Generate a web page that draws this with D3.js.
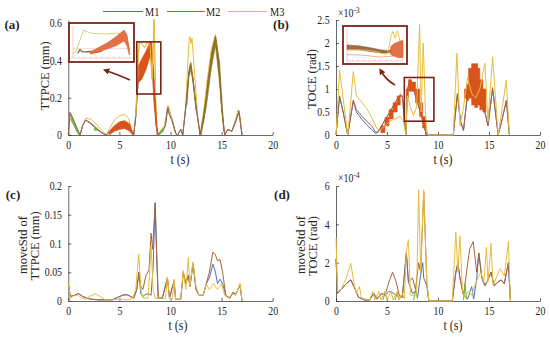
<!DOCTYPE html>
<html><head><meta charset="utf-8">
<script src="https://cdn.jsdelivr.net/npm/d3@7"></script>
<style>
body{margin:0;background:#fff}
svg{display:block}
text{font-family:"Liberation Serif","Times New Roman",Tinos,serif;fill:#262626}
</style>
</head><body>
<svg id="c" width="550" height="338"></svg>
<script>
// ---------------- DATA ----------------
const seriesNames = ["M1", "M2", "M3"];
const xTicks = [0, 5, 10, 15, 20];

// (a) TTPCE (mm)
const aTicks = [0, 0.2, 0.4, 0.6];
const aM1 = [[0,0],[0.15,0.12],[0.5,0.08],[0.9,0.03],[1.15,0],[1.4,0.05],[1.7,0.08],[2.2,0.06],[2.8,0.03],[3.3,0.01],[3.7,0],[4.1,0.02],[4.6,0.045],[5.1,0.06],[5.5,0.065],[5.9,0.05],[6.2,0.02],[6.4,0],[6.6,0.1],[6.85,0.3],[7.3,0.35],[7.8,0.42],[8.1,0.48],[8.35,0.3],[8.6,0.05],[8.8,0],[9.2,0.02],[9.5,0.05],[9.7,0.14],[9.9,0.11],[10.2,0.07],[10.5,0.01],[10.7,0],[11,0.03],[11.2,0],[11.5,0.15],[11.8,0.33],[11.95,0.37],[12.2,0.3],[12.5,0.15],[12.9,0],[13.3,0.1],[13.7,0.3],[14.1,0.45],[14.4,0.52],[14.7,0.4],[15,0.15],[15.3,0],[15.6,0.03],[16,0.02],[16.3,0.06],[16.7,0.12],[17,0]];
const aM2 = [[0,0],[0.15,0.12],[0.5,0.08],[0.9,0.03],[1.15,0],[1.4,0.05],[1.7,0.08],[2.2,0.065],[2.8,0.035],[3.3,0.012],[3.7,0],[4.1,0.02],[4.6,0.05],[5.1,0.07],[5.5,0.075],[5.9,0.06],[6.2,0.02],[6.4,0],[6.6,0.1],[6.85,0.3],[7.3,0.35],[7.8,0.42],[8.1,0.49],[8.35,0.3],[8.6,0.05],[8.8,0],[9.2,0.02],[9.5,0.05],[9.75,0.15],[9.9,0.11],[10.2,0.07],[10.5,0.01],[10.7,0],[11,0.03],[11.2,0],[11.5,0.15],[11.8,0.34],[11.95,0.385],[12.2,0.3],[12.5,0.15],[12.9,0],[13.3,0.1],[13.7,0.3],[14.1,0.45],[14.4,0.53],[14.7,0.4],[15,0.15],[15.3,0],[15.6,0.03],[16,0.02],[16.3,0.06],[16.7,0.13],[17,0]];
const aM3 = [[0,0],[0.15,0.125],[0.4,0.1],[0.8,0.04],[1.15,0],[1.4,0.05],[1.7,0.09],[2.2,0.085],[2.8,0.055],[3.3,0.025],[3.7,0],[4.0,0.03],[4.5,0.08],[5.0,0.103],[5.5,0.11],[5.9,0.09],[6.2,0.03],[6.4,0],[6.6,0.1],[6.8,0.38],[6.95,0.5],[7.2,0.49],[7.45,0.47],[7.75,0.5],[8.0,0.48],[8.2,0.3],[8.4,0.62],[8.55,0.2],[8.7,0],[9.0,0.02],[9.4,0.05],[9.75,0.16],[9.95,0.13],[10.2,0.08],[10.5,0.01],[10.7,0],[11,0.03],[11.2,0],[11.5,0.17],[11.8,0.5],[11.9,0.53],[12.0,0.49],[12.1,0.52],[12.4,0.3],[12.7,0.08],[12.9,0],[13.2,0.1],[13.6,0.3],[14.0,0.46],[14.4,0.54],[14.7,0.42],[15,0.15],[15.3,0],[15.6,0.03],[16,0.02],[16.3,0.07],[16.6,0.135],[16.8,0.1],[17,0]];
const aOrangeBands = [
  {t:[4.0,4.5,5.0,5.5,6.0,6.3], lo:[0,0.02,0.03,0.035,0.02,0], hi:[0.02,0.05,0.07,0.076,0.06,0.01]},
  {t:[6.85,7.2,7.6,8.0,8.15,8.4,8.7], lo:[0.28,0.3,0.35,0.42,0.4,0.15,0], hi:[0.37,0.41,0.45,0.5,0.5,0.3,0.03]}
];
const aOliveBands = [
  {t:[13.0,13.5,14.0,14.4,14.8,15.2], lo:[0,0.15,0.36,0.48,0.28,0.02], hi:[0.04,0.21,0.44,0.53,0.39,0.05]},
  {t:[11.6,11.8,12.0,12.2,12.5], lo:[0.16,0.31,0.35,0.28,0.13], hi:[0.18,0.34,0.39,0.31,0.15]}
];
const aGreenBands = [
  {t:[0.25,0.5,0.8,1.05], lo:[0.08,0.055,0.02,0], hi:[0.1,0.07,0.035,0.008]},
  {t:[2.55,2.7,2.85], lo:[0.025,0.025,0.025], hi:[0.045,0.04,0.035]},
  {t:[8.9,9.1,9.3], lo:[0.005,0.01,0.02], hi:[0.015,0.025,0.035]}
];

// (b) TOCE (rad) x10^-3
const bTicks = [0, 0.5, 1, 1.5, 2, 2.5];
const bM1 = [[0,0],[0.35,0.83],[0.7,0.5],[1.15,0],[1.7,0.74],[2.0,0.5],[2.5,0.35],[3.0,0.22],[3.5,0.12],[3.9,0.03],[4.2,0.08],[4.6,0.25],[5.0,0.4],[5.4,0.55],[5.8,0.7],[6.2,0.85],[6.5,0.85],[6.85,0],[7.0,1.0],[7.3,1.2],[7.6,1.0],[8.0,0.7],[8.4,0.4],[8.6,0.2],[8.9,0],[11.5,0],[11.9,0.88],[12.2,0.3],[12.5,0.1],[12.9,0.9],[13.3,1.2],[13.7,1.3],[14.1,1.0],[14.5,0.6],[14.9,0.2],[15.35,1.0],[15.9,0],[16.3,0.35],[16.7,0.75],[17,0]];
const bM2 = [[0,0],[0.35,0.85],[0.7,0.5],[1.15,0],[1.7,0.76],[2.0,0.55],[2.5,0.42],[3.0,0.3],[3.5,0.2],[3.9,0.05],[4.2,0.1],[4.6,0.25],[5.0,0.4],[5.4,0.55],[5.8,0.7],[6.2,0.85],[6.5,0.85],[6.85,0],[7.0,1.0],[7.3,1.2],[7.6,1.0],[8.0,0.7],[8.4,0.4],[8.6,0.2],[8.9,0],[11.5,0],[11.9,0.9],[12.2,0.3],[12.5,0.1],[12.9,0.9],[13.3,1.2],[13.7,1.3],[14.1,1.0],[14.5,0.6],[14.9,0.2],[15.35,1.03],[15.9,0],[16.3,0.35],[16.7,0.75],[17,0]];
const bM3 = [[0,0],[0.35,1.41],[0.7,0.8],[1.15,0],[1.7,1.38],[2.0,0.85],[2.5,0.72],[3.0,0.58],[3.5,0.38],[4.0,0.15],[4.3,0.1],[4.8,0.2],[5.3,0.3],[5.8,0.35],[6.3,0.4],[6.6,0.3],[6.85,0],[7.0,0.85],[7.3,0.6],[7.6,0.42],[7.9,0.6],[8.2,2.4],[8.35,0.5],[8.55,2.0],[8.8,0.3],[9.0,0],[11.5,0],[11.85,1.78],[12.15,0.2],[12.5,0.6],[12.9,1.25],[13.3,0.9],[13.7,0.8],[14.1,1.0],[14.6,1.56],[14.9,0.3],[15.35,1.7],[15.9,0],[16.3,0.6],[16.7,1.2],[17,0]];
const bOrangeBands = [
  {t:[4.4,4.8,5.2,5.6,6.0,6.3], lo:[0.05,0.2,0.35,0.5,0.65,0.75], hi:[0.2,0.38,0.55,0.7,0.85,0.9]},
  {t:[6.9,7.1,7.4,7.8,8.2,8.5,8.8], lo:[0.8,0.95,0.95,0.7,0.4,0.15,0], hi:[1.0,1.2,1.15,1.0,0.7,0.4,0.1]},
  {t:[12.6,12.8,13.0,13.3,13.6,13.9,14.1,14.4,14.7], lo:[0.8,0.75,0.8,0.65,0.6,0.65,0.55,0.5,0.6], hi:[1.0,1.1,1.45,1.55,1.55,1.45,1.2,1.0,0.8]}
];

// (c) moveStd of TTPCE (mm)
const cTicks = [0, 0.05, 0.1, 0.15, 0.2];
const cM1 = [[0,0.03],[0.2,0.008],[0.6,0.01],[1.0,0.013],[1.4,0.008],[1.8,0.005],[2.3,0.003],[3.0,0.002],[3.6,0.002],[4.3,0.002],[4.8,0.006],[5.3,0.01],[5.7,0.011],[6.1,0.008],[6.4,0.005],[6.7,0.02],[6.9,0.05],[7.1,0.012],[7.3,0.008],[7.6,0.012],[7.9,0.012],[8.1,0.01],[8.3,0.06],[8.5,0.17],[8.65,0.08],[8.8,0.005],[9.2,0.005],[9.7,0.04],[9.9,0.005],[10.35,0.035],[10.5,0.003],[11.0,0.003],[11.25,0.05],[11.5,0.03],[11.75,0.045],[11.9,0.025],[12.2,0.065],[12.5,0.02],[12.8,0.01],[13.2,0.01],[13.5,0.03],[13.8,0.04],[14.15,0.064],[14.4,0.05],[14.6,0.03],[14.85,0.038],[15.1,0.03],[15.4,0.01],[15.8,0.005],[16.1,0.015],[16.4,0.012],[16.8,0.028],[17,0]];
const cM2 = [[0,0.03],[0.2,0.008],[0.6,0.01],[1.0,0.013],[1.4,0.008],[1.8,0.005],[2.3,0.003],[3.0,0.002],[3.6,0.002],[4.3,0.002],[4.8,0.006],[5.3,0.01],[5.7,0.011],[6.1,0.008],[6.4,0.005],[6.7,0.02],[6.9,0.05],[7.1,0.025],[7.3,0.02],[7.6,0.045],[7.9,0.054],[8.1,0.118],[8.25,0.09],[8.5,0.171],[8.65,0.08],[8.8,0.005],[9.2,0.005],[9.7,0.04],[9.9,0.005],[10.35,0.035],[10.5,0.003],[11.0,0.003],[11.25,0.05],[11.5,0.03],[11.75,0.045],[11.9,0.025],[12.2,0.065],[12.5,0.02],[12.8,0.01],[13.2,0.01],[13.5,0.03],[13.8,0.05],[14.15,0.085],[14.4,0.08],[14.6,0.07],[14.85,0.072],[15.1,0.05],[15.4,0.01],[15.8,0.005],[16.1,0.015],[16.4,0.012],[16.8,0.028],[17,0]];
const cM3 = [[0,0.031],[0.2,0.005],[0.6,0.01],[1.0,0.01],[1.3,0.005],[1.7,0.003],[2.1,0.008],[2.6,0.013],[3.1,0.008],[3.6,0.002],[4.3,0.002],[4.8,0.003],[5.3,0.003],[5.8,0.002],[6.3,0.005],[6.6,0.02],[6.9,0.082],[7.1,0.02],[7.3,0.005],[7.8,0.005],[8.1,0.095],[8.3,0.02],[8.5,0.005],[9.0,0.005],[9.5,0.004],[9.7,0.042],[9.9,0.005],[10.2,0.004],[10.35,0.038],[10.5,0.003],[11.0,0.003],[11.25,0.053],[11.5,0.02],[11.75,0.076],[11.9,0.025],[12.2,0.068],[12.5,0.025],[12.8,0.01],[13.2,0.01],[13.5,0.03],[13.8,0.02],[14.2,0.03],[14.6,0.02],[15.0,0.03],[15.3,0.01],[15.7,0.005],[16.0,0.012],[16.4,0.01],[16.8,0.031],[17,0]];

// (d) moveStd of TOCE (rad) x10^-4
const dTicks = [0, 2, 4, 6];
const dM1 = [[0,2.2],[0.15,0.4],[0.5,0.6],[1.0,0.9],[1.45,1.1],[1.8,0.7],[2.2,0.2],[2.8,0.05],[3.3,0.05],[3.7,0.4],[4.0,0.1],[4.5,0.4],[4.8,0.3],[5.2,0.5],[5.5,0.45],[5.9,0.3],[6.2,0.2],[6.5,0.2],[6.9,2.5],[7.1,1.0],[7.5,0.4],[7.8,0.5],[8.0,0.2],[8.2,1.0],[8.5,2.0],[8.6,1.2],[8.9,0.8],[9.1,0],[11.4,0],[11.75,1.5],[11.95,2.0],[12.15,1.2],[12.5,0.3],[12.9,0.1],[13.3,0.75],[13.5,0.1],[13.8,1.2],[14.0,2.5],[14.3,1.2],[14.6,0.8],[14.8,1.0],[15.2,1.5],[15.5,0.8],[15.9,1.0],[16.2,1.1],[16.5,0.9],[16.9,2.0],[17.1,0]];
const dM2 = [[0,2.2],[0.15,0.4],[0.5,0.6],[1.0,0.9],[1.45,1.1],[1.8,0.7],[2.2,0.2],[2.8,0.05],[3.3,0.05],[3.7,0.4],[4.0,0.1],[4.5,0.4],[4.8,0.3],[5.2,1.0],[5.55,1.5],[5.9,1.0],[6.2,0.3],[6.5,0.2],[6.9,2.5],[7.1,1.0],[7.5,1.2],[7.8,0.6],[8.1,2.0],[8.3,1.5],[8.6,5.7],[8.9,1.0],[9.1,0],[11.4,0],[11.75,1.5],[11.95,2.0],[12.15,1.2],[12.5,0.3],[12.8,1.5],[13.1,2.7],[13.45,3.1],[13.8,1.5],[14.0,2.5],[14.3,1.2],[14.6,0.8],[14.8,1.0],[15.2,1.5],[15.5,0.8],[15.9,1.0],[16.2,1.1],[16.5,0.9],[16.9,2.0],[17.1,0]];
const dM3 = [[0,3.3],[0.15,0.5],[0.5,0.6],[1.0,1.2],[1.45,1.96],[1.8,0.8],[2.0,0.4],[2.3,0.76],[2.5,0.15],[3.3,0.05],[3.6,0.5],[3.8,0.05],[4.2,0.5],[4.4,0.05],[4.8,0.5],[5.0,0.05],[5.4,0.5],[5.6,0.05],[6.0,0.5],[6.2,0.05],[6.5,0.4],[6.7,0.1],[6.9,2.6],[7.1,3.2],[7.3,0.3],[7.6,0.3],[7.9,0.3],[8.1,5.8],[8.3,1.5],[8.6,5.8],[8.9,1.0],[9.1,0],[11.4,0],[11.75,3.6],[11.95,1.5],[12.15,3.4],[12.4,0.5],[12.6,0.2],[13.0,0.5],[13.3,0.3],[13.6,0.8],[13.9,1.2],[14.2,1.5],[14.5,1.0],[14.75,2.8],[14.9,1.0],[15.2,3.0],[15.4,0.8],[15.7,1.2],[16.1,1.7],[16.5,1.3],[16.9,3.1],[17.1,0]];
const dGreen = [
  [[4.6,0.05],[4.8,0.45],[5.0,0.05]],
  [[5.8,0.05],[6.0,0.45],[6.2,0.05]],
  [[7.6,0.05],[7.8,0.6],[8.0,0.1]],
  [[12.5,0.05],[12.65,0.9],[12.8,0.1]]
];

// Insets (normalised values)
const insetAYellow = [[0,0.15],[0.05,0.2],[0.18,0.9],[0.3,0.8],[0.45,0.78],[0.6,0.78],[0.75,0.8],[0.85,0.76],[0.93,0.7],[0.97,0.2],[1.0,0.1]];
const insetAOlive = [[0.08,0.15],[0.12,0.27],[0.16,0.2],[0.2,0.2],[0.3,0.21],[0.4,0.18],[0.5,0.22]];
const insetABand = {t:[0.3,0.45,0.6,0.75,0.88,0.93,0.97], lo:[0.12,0.2,0.3,0.4,0.55,0.4,0.1], hi:[0.2,0.35,0.5,0.7,0.9,0.75,0.3]};
const insetBBrown = {t:[0,0.2,0.4,0.6,0.75,0.8,0.85], lo:[0.35,0.35,0.3,0.25,0.25,0.3,0.45], hi:[0.5,0.48,0.42,0.35,0.32,0.4,0.55]};
const insetBYellow = [[0,0.35],[0.2,0.35],[0.4,0.33],[0.55,0.28],[0.68,0.2],[0.73,0.25],[0.78,0.75],[0.82,0.92],[0.86,0.7],[0.9,0.95],[0.95,0.6],[1.0,0.5]];
const insetBLow = [[0,0.2],[0.3,0.18],[0.6,0.12],[0.8,0.15],[1.0,0.2]];
const insetBBand = {t:[0.78,0.85,0.92,1.0], lo:[0.2,0.15,0.1,0.1], hi:[0.45,0.55,0.6,0.65]};

// ---------------- STYLE ----------------
const colors = {M1:"#4a72c4", M2:"#a5643a", M3:"#e6bd3c"};
const orange = "#d9541a", olive = "#8f7424", green = "#6fb23a", boxRed = "#7a2418";
const axisCol = "#262626";
const FONT = '"Liberation Serif","Times New Roman",Tinos,serif';
const SX = 0.86; // horizontal squeeze of upright text (as in the reference)

const svg = d3.select("#c");
const defs = svg.append("defs");
defs.append("marker").attr("id","arr").attr("viewBox","0 0 10 10").attr("refX",5).attr("refY",5)
  .attr("markerWidth",4).attr("markerHeight",4).attr("orient","auto-start-reverse")
  .append("path").attr("d","M0,0L10,5L0,10z").attr("fill",boxRed);

function makePanel(cfg){
  const x = d3.scaleLinear().domain([0,20]).range(cfg.xr);
  const y = d3.scaleLinear().domain(cfg.yd).range(cfg.yr);
  const g = svg.append("g");
  const ax = g.append("g").attr("transform",`translate(0,${cfg.yr[0]})`)
    .call(d3.axisBottom(x).tickValues(xTicks).tickSizeInner(-3).tickSizeOuter(0).tickPadding(6).tickFormat(d=>String(d)));
  const ay = g.append("g").attr("transform",`translate(${cfg.xr[0]},0)`)
    .call(d3.axisLeft(y).tickValues(cfg.ticks).tickSizeInner(-3).tickSizeOuter(0).tickPadding(7.3).tickFormat(d=>String(d)));
  [ax,ay].forEach(a=>{
    a.attr("font-family",null);
    a.select(".domain").attr("stroke",axisCol).attr("stroke-width",0.7);
    a.selectAll(".tick line").attr("stroke",axisCol).attr("stroke-width",0.7);
    a.selectAll(".tick text").attr("fill",axisCol).attr("transform",`scale(${SX},1)`)
      .style("font-size","11.5px").style("font-family",FONT);
  });
  return {x,y,g};
}

function drawBands(p, bands, col, curve){
  bands.forEach(b=>{
    const pts = b.t.map((t,i)=>({t,lo:b.lo[i],hi:b.hi[i]}));
    p.g.append("path").datum(pts)
      .attr("d", d3.area().x(d=>p.x(d.t)).y0(d=>p.y(d.lo)).y1(d=>p.y(d.hi)).curve(curve||d3.curveLinear))
      .attr("fill",col).attr("stroke",col).attr("stroke-width",0.6);
  });
}
function drawLines(p, list){
  list.forEach(([data,col,w])=>{
    p.g.append("path").datum(data)
      .attr("d", d3.line().x(d=>p.x(d[0])).y(d=>p.y(d[1])))
      .attr("fill","none").attr("stroke",col).attr("stroke-width",w||1).attr("stroke-linejoin","round");
  });
}
function label(txt,x,y,opts={}){
  const t = svg.append("text").text(txt)
    .attr("text-anchor",opts.anchor||"middle").style("font-size",(opts.size||12.5)+"px").style("font-family",FONT);
  if(opts.bold) t.style("font-weight","bold");
  if(opts.rotate) t.attr("x",x).attr("y",y).attr("transform",`rotate(-90,${x},${y})`);
  else t.attr("x",0).attr("y",0).attr("transform",`translate(${x},${y}) scale(${opts.sx||1},1)`);
  return t;
}
function exponent(x,y,e){
  const t = svg.append("text").attr("transform",`translate(${x},${y}) scale(${SX},1)`).style("font-size","11.5px").style("font-family",FONT);
  t.append("tspan").text("×10");
  t.append("tspan").attr("dy",-4.5).style("font-size","8.5px").text(e);
}

// ---------- Panel (a)
const pa = makePanel({xr:[68.3,272.7], yd:[0,0.6175], yr:[135,20], ticks:aTicks});
drawLines(pa, [[aM3,colors.M3,1],[aM1,colors.M1,1],[aM2,colors.M2,1]]);
drawBands(pa, aOliveBands, olive);
drawBands(pa, aOrangeBands, orange);
drawBands(pa, aGreenBands, green);
drawLines(pa, [[aM3.filter(d=>d[0]>6.5&&d[0]<8.7),colors.M3,1]]);

// ---------- Panel (b)
const pb = makePanel({xr:[336,540], yd:[0,2.5], yr:[135,20], ticks:bTicks});
drawLines(pb, [[bM1,colors.M1,1],[bM2,colors.M2,1]]);
drawBands(pb, bOrangeBands, orange, d3.curveStepAfter);
drawLines(pb, [[bM3,colors.M3,1]]);

// ---------- Panel (c)
const pc = makePanel({xr:[68.3,272.7], yd:[0,0.2], yr:[301,186], ticks:cTicks});
drawLines(pc, [[cM1,colors.M1,1],[cM2,colors.M2,1],[cM3,colors.M3,1]]);

// ---------- Panel (d)
const pd = makePanel({xr:[336,540], yd:[0,6], yr:[301,186], ticks:dTicks});
drawLines(pd, [[dM1,colors.M1,1],[dM2,colors.M2,1]]);
dGreen.forEach(s=>drawLines(pd, [[s,green,1]]));
drawLines(pd, [[dM3,colors.M3,1]]);

// ---------- Insets & zoom boxes
function inset(box, area, draw){
  svg.append("rect").attr("x",box[0]).attr("y",box[1]).attr("width",box[2]).attr("height",box[3])
    .attr("fill","#fff").attr("stroke",boxRed).attr("stroke-width",1.8);
  const x = d3.scaleLinear().domain([0,1]).range([area[0],area[1]]);
  const y = d3.scaleLinear().domain([0,1]).range([area[2],area[3]]);
  const g = svg.append("g");
  g.append("line").attr("x1",area[0]).attr("x2",area[0]).attr("y1",area[2]).attr("y2",area[3]).attr("stroke","#e9a3b4").attr("stroke-width",0.6);
  g.append("line").attr("x1",area[0]).attr("x2",area[1]).attr("y1",area[2]).attr("y2",area[2]).attr("stroke","#e9a3b4").attr("stroke-width",0.6);
  d3.range(0,1.01,0.1).forEach(v=>{
    g.append("line").attr("x1",x(v)).attr("x2",x(v)).attr("y1",area[2]).attr("y2",area[2]-1.5).attr("stroke","#e9a3b4").attr("stroke-width",0.5);
  });
  draw(g,x,y);
}
const ln = (x,y)=>d3.line().x(d=>x(d[0])).y(d=>y(d[1]));
const ar = (x,y)=>d3.area().x(d=>x(d.t)).y0(d=>y(d.lo)).y1(d=>y(d.hi));
const bandPts = b=>b.t.map((t,i)=>({t,lo:b.lo[i],hi:b.hi[i]}));

inset([69,23,65,39],[73,131,58,27],(g,x,y)=>{
  g.append("line").attr("x1",73).attr("x2",131).attr("y1",y(0.3)).attr("y2",y(0.3)).attr("stroke","#f2b7c4").attr("stroke-width",0.6);
  g.append("path").datum(insetAYellow).attr("d",ln(x,y)).attr("fill","none").attr("stroke","#c9cf6a").attr("stroke-width",0.9);
  g.append("path").datum(insetAOlive).attr("d",ln(x,y)).attr("fill","none").attr("stroke","#6f7a3a").attr("stroke-width",1.3);
  g.append("path").datum(bandPts(insetABand)).attr("d",ar(x,y)).attr("fill","#e2714a").attr("stroke","#d9541a").attr("stroke-width",0.5);
});
inset([343,26,64,38],[347,403,61,29],(g,x,y)=>{
  g.append("path").datum(bandPts(insetBBrown)).attr("d",ar(x,y)).attr("fill","#9c6b4a").attr("stroke","#8c5a3a").attr("stroke-width",0.5);
  g.append("path").datum(insetBLow).attr("d",ln(x,y)).attr("fill","none").attr("stroke","#e0a060").attr("stroke-width",0.8);
  g.append("path").datum(insetBYellow).attr("d",ln(x,y)).attr("fill","none").attr("stroke","#e3c24a").attr("stroke-width",0.9);
  g.append("path").datum(bandPts(insetBBand)).attr("d",ar(x,y)).attr("fill","#e2714a").attr("stroke","#d9541a").attr("stroke-width",0.5);
});
svg.append("rect").attr("x",pa.x(6.7)).attr("y",pa.y(0.5)).attr("width",pa.x(9.05)-pa.x(6.7)).attr("height",pa.y(0.22)-pa.y(0.5))
  .attr("fill","none").attr("stroke",boxRed).attr("stroke-width",1.6);
svg.append("rect").attr("x",pb.x(6.7)).attr("y",pb.y(1.25)).attr("width",pb.x(9.6)-pb.x(6.7)).attr("height",pb.y(0.3)-pb.y(1.25))
  .attr("fill","none").attr("stroke",boxRed).attr("stroke-width",1.6);
svg.append("path").attr("d","M130,80 Q116,74 106,70.5").attr("fill","none").attr("stroke",boxRed).attr("stroke-width",1.6).attr("marker-end","url(#arr)");
svg.append("path").attr("d","M395,85 Q386,80 381,71").attr("fill","none").attr("stroke",boxRed).attr("stroke-width",1.6).attr("marker-end","url(#arr)");

// ---------- Text
label("(a)",12,29,{bold:true,size:13});
label("(b)",281,29,{bold:true,size:13});
label("(c)",13,199,{bold:true,size:13});
label("(d)",282,199,{bold:true,size:13});
label("TTPCE (mm)",49,76,{rotate:true,size:12.5});
label("TOCE (rad)",316,79,{rotate:true,size:12.5});
label("moveStd of",27,245,{rotate:true,size:12.5});
label("TTPCE (mm)",39,246,{rotate:true,size:12.5});
label("moveStd of",305,245,{rotate:true,size:12.5});
label("TOCE (rad)",317,246,{rotate:true,size:12.5});
label("t (s)",180,164,{size:14,sx:SX});
label("t (s)",443,164,{size:14,sx:SX});
label("t (s)",178,330,{size:14,sx:SX});
label("t (s)",453,330,{size:14,sx:SX});
exponent(338,17,"-3");
exponent(338,182,"-4");

// ---------- Legend
const legX = [[103,143,145],[167,205,206],[228,267,270]];
seriesNames.forEach((n,i)=>{
  svg.append("line").attr("x1",legX[i][0]).attr("x2",legX[i][1]).attr("y1",11.5).attr("y2",11.5).attr("stroke",colors[n]).attr("stroke-width",1);
  label(n, legX[i][2], 15.5, {anchor:"start", size:12, sx:SX});
});
</script>
</body></html>
